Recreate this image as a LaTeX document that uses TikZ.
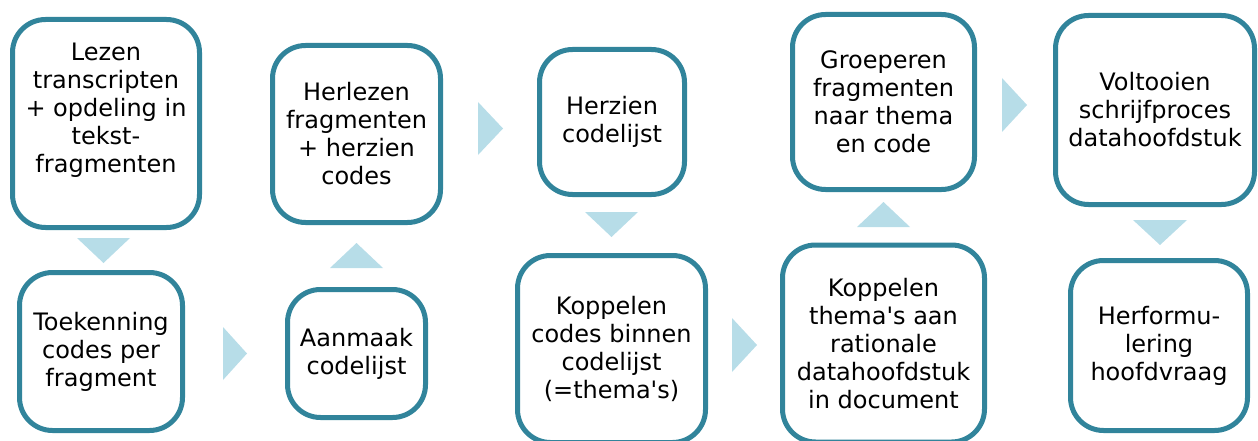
\documentclass[tikz,border=0pt]{standalone}
\usepackage{fontspec}
\setmainfont{DejaVu Sans}
\definecolor{edgeteal}{HTML}{31849B}
\definecolor{trifill}{HTML}{B7DDE8}
\begin{document}
\begin{tikzpicture}[x=1pt,y=-1pt,
  box/.style={draw=edgeteal, line width=5pt, rounded corners=33pt, fill=white,
    inner sep=0pt, align=center, font=\fontsize{24}{28}\selectfont, text=black},
  txt/.style={inner sep=0pt, align=center, font=\fontsize{24}{28}\selectfont, text=black},
  tri/.style={fill=trifill, draw=none}]
\useasboundingbox (0,0) rectangle (1258,441);
\clip (0,0) rectangle (1258,441);
% boxes
\node[box, minimum width=187pt, minimum height=208pt] (b1) at (106,123.5) {};
\node[txt] (t1) at (106,110) {Lezen\\transcripten\\+ opdeling in\\tekst-\\fragmenten};
\node[box, minimum width=163pt, minimum height=158pt] (b2) at (101,351.5) {Toekenning\\codes per\\fragment};
\node[box, minimum width=168pt, minimum height=177pt] (b3) at (356.5,134) {Herlezen\\fragmenten\\+ herzien\\codes};
\node[box, minimum width=138pt, minimum height=128pt] (b4) at (356.5,353.5) {Aanmaak\\codelijst};
\node[box, minimum width=145pt, minimum height=145pt] (b5) at (612,122) {Herzien\\codelijst};
\node[box, minimum width=188pt, minimum height=187pt] (b6) at (611.5,349) {Koppelen\\codes binnen\\codelijst\\(=thema\textquotesingle s)};
\node[box, minimum width=182pt, minimum height=175pt] (b7) at (883.5,102) {Groeperen\\fragmenten\\naar thema\\en code};
\node[box, minimum width=202pt, minimum height=197pt] (b8) at (883.5,343.5) {Koppelen\\thema\textquotesingle s aan\\rationale\\datahoofdstuk\\in document};
\node[box, minimum width=199pt, minimum height=189pt] (b9) at (1155,110) {Voltooien\\schrijfproces\\datahoofdstuk};
\node[box, minimum width=177pt, minimum height=170pt] (b10) at (1159,345.5) {Herformu-\\lering\\hoofdvraag};
% triangles
\fill[tri] (77,238) -- (130,238) -- (103.5,263) -- cycle;
\fill[tri] (223,327) -- (247,353.5) -- (223,380) -- cycle;
\fill[tri] (330,268) -- (383,268) -- (356.5,243) -- cycle;
\fill[tri] (478,102) -- (503,128.5) -- (478,155) -- cycle;
\fill[tri] (585,212) -- (638,212) -- (611.5,237) -- cycle;
\fill[tri] (732,318) -- (757,345) -- (732,372) -- cycle;
\fill[tri] (857,227) -- (910,227) -- (883.5,202) -- cycle;
\fill[tri] (1002,78) -- (1027,105) -- (1002,132) -- cycle;
\fill[tri] (1133,220) -- (1187,220) -- (1160,245) -- cycle;
\end{tikzpicture}
\end{document}
